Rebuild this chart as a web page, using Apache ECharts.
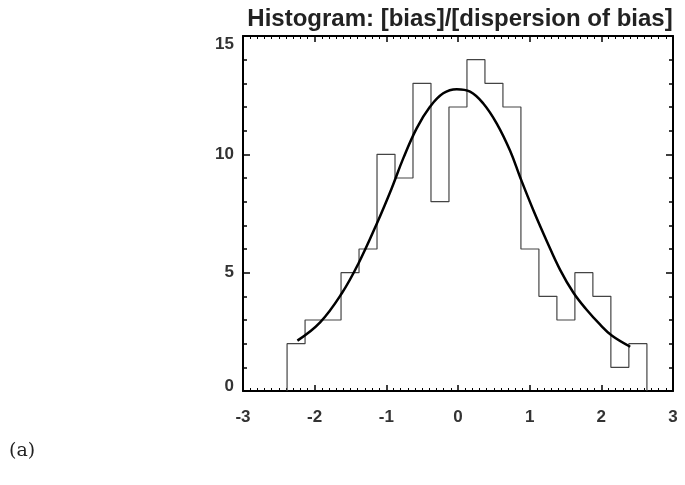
<!DOCTYPE html>
<html>
<head>
<meta charset="utf-8">
<script src="https://cdn.jsdelivr.net/npm/echarts@6/dist/echarts.min.js"></script>
<style>html,body{margin:0;padding:0;background:#fff}#c{width:685px;height:485px}</style>
</head>
<body>
<div id="c"></div>
<script>
const titleText = "Histogram: [bias]/[dispersion of bias]";
const panelLabel = "(a)";
const xTicks = [-3, -2, -1, 0, 1, 2, 3];
const yTicks = [0, 5, 10, 15];
// histogram bin edges and counts
const binEdges = [-2.385, -2.134, -1.883, -1.632, -1.381, -1.130, -0.879, -0.628, -0.377, -0.126, 0.125,
                  0.376, 0.627, 0.878, 1.129, 1.380, 1.631, 1.882, 2.133, 2.384, 2.636];
const binCounts = [2, 3, 3, 5, 6, 10, 9, 13, 8, 12, 14, 13, 12, 6, 4, 3, 5, 4, 1, 2];
// fitted curve
const curveX = [-2.241, -1.924, -1.621, -1.389, -1.132, -0.926, -0.764, -0.577, -0.391, -0.206, -0.018, 0.168, 0.353, 0.541, 0.727, 0.871, 1.050, 1.244, 1.425, 1.611, 1.798, 1.984, 2.150, 2.403];
const curveY = [2.13, 2.90, 4.13, 5.39, 7.08, 8.56, 9.83, 11.10, 12.01, 12.58, 12.75, 12.65, 12.15, 11.30, 10.15, 9.00, 7.65, 6.30, 5.12, 4.15, 3.42, 2.80, 2.33, 1.87];

const histPts = [[binEdges[0], 0]];
for (let i = 0; i < binCounts.length; i++) {
  histPts.push([binEdges[i], binCounts[i]]);
  histPts.push([binEdges[i + 1], binCounts[i]]);
}
histPts.push([binEdges[binEdges.length - 1], 0]);
const curvePts = curveX.map((x, i) => [x, curveY[i]]);

const FONT = 'Liberation Sans';
const labelStyle = { fontFamily: FONT, fontWeight: 'bold', fontSize: 17, color: '#333' };
const axisBase = {
  axisLine: { show: true, onZero: false, lineStyle: { color: '#000', width: 2 } },
  splitLine: { show: false },
};
const xTickCfg = {
  axisTick: { show: true, inside: true, length: 6, lineStyle: { color: '#000', width: 1.5 } },
  minorTick: { show: true, splitNumber: 10, length: 3, lineStyle: { color: '#000', width: 1 } }
};
const yTickCfg = {
  axisTick: { show: true, inside: true, length: 7, lineStyle: { color: '#000', width: 1.5 } },
  minorTick: { show: true, splitNumber: 5, length: 4, lineStyle: { color: '#000', width: 1.5 } }
};
const chart = echarts.init(document.getElementById('c'), null, { renderer: 'canvas' });
chart.setOption({
  animation: false,
  title: {
    text: titleText, left: 455, top: 2, textAlign: 'center',
    textStyle: { fontFamily: FONT, fontWeight: 'bold', fontSize: 24, color: '#222' }
  },
  graphic: [{
    type: 'text', left: 9, top: 442,
    style: { text: panelLabel, font: '19px "DejaVu Serif"', fill: '#222' }
  }],
  grid: { left: 243, right: 12, top: 36, bottom: 94 },
  xAxis: [
    Object.assign({}, axisBase, xTickCfg, {
      type: 'value', min: -3, max: 3, interval: 1, position: 'bottom',
      axisLabel: Object.assign({ margin: 18, formatter: v => (xTicks.includes(v) ? String(v) : '') }, labelStyle)
    }),
    Object.assign({}, axisBase, xTickCfg, {
      type: 'value', min: -3, max: 3, interval: 1, position: 'top',
      axisLabel: { show: false }
    })
  ],
  yAxis: [
    Object.assign({}, axisBase, yTickCfg, {
      type: 'value', min: 0, max: 15, interval: 5, position: 'left',
      axisLabel: Object.assign({
        margin: 9,
        formatter: v => (v === 15 ? '{t|15}' : v === 0 ? '{b|0}' : (yTicks.includes(v) ? String(v) : '')),
        rich: {
          t: Object.assign({ padding: [16, 0, 0, 0] }, labelStyle),
          b: Object.assign({ padding: [0, 0, 10, 0] }, labelStyle)
        }
      }, labelStyle)
    }),
    Object.assign({}, axisBase, yTickCfg, {
      type: 'value', min: 0, max: 15, interval: 5, position: 'right',
      axisLabel: { show: false }
    })
  ],
  series: [
    {
      type: 'line', data: histPts, showSymbol: false, symbol: 'none',
      lineStyle: { color: '#444', width: 1.2 }, z: 2
    },
    {
      type: 'line', data: curvePts, smooth: 0.4, showSymbol: false, symbol: 'none',
      lineStyle: { color: '#000', width: 2.5 }, z: 3
    }
  ]
});
</script>
</body>
</html>
